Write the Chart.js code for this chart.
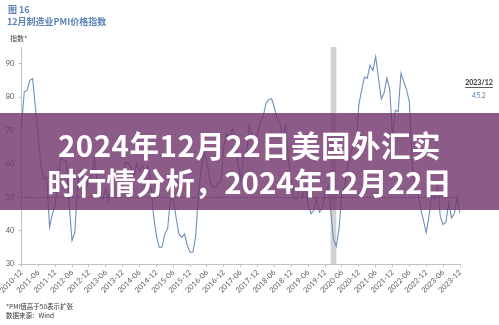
<!DOCTYPE html>
<html>
<head>
<meta charset="utf-8">
<script src="https://cdn.jsdelivr.net/npm/chart.js@4.4.1/dist/chart.umd.min.js"></script>
<style>
  html, body { margin: 0; padding: 0; background: #fff; }
  #wrap { position: relative; width: 499px; height: 325px; overflow: hidden; font-family: "Noto Sans CJK SC", Lato, sans-serif; }
  #chart { position: absolute; left: 0; top: 0; }
  .t { position: absolute; white-space: nowrap; line-height: 1; }
  #fig { left: 8px; top: 5px; font-size: 9px; font-weight: bold; color: #5a82b4; }
  #ttl { left: 7px; top: 17px; font-size: 9px; font-weight: bold; color: #5a82b4; }
  #unit { left: 10px; top: 35px; font-size: 7px; color: #444; }
  #note { left: 6px; top: 303px; font-size: 6.5px; color: #333; }
  #src { left: 6px; top: 312px; font-size: 6.5px; color: #333; }
  #banner { position: absolute; left: 0; top: 113px; width: 499px; height: 97px; background: rgba(115, 55, 110, 0.82); }
  .bl { position: absolute; left: 0; width: 499px; text-align: center; color: #fff; font-weight: bold; font-size: 29.5px; line-height: 37px; }
  #l1 { top: 13px; letter-spacing: 0.5px; }
  #l2 { top: 50px; }
</style>
</head>
<body>
<div id="wrap">
  <canvas id="chart" width="499" height="325"></canvas>
  <div class="t" id="fig">图 16</div>
  <div class="t" id="ttl">12月制造业PMI价格指数</div>
  <div class="t" id="unit">指数*</div>
  <div class="t" id="note">*PMI值高于50表示扩张</div>
  <div class="t" id="src">数据来源：Wind</div>
  <div id="banner">
    <div class="bl" id="l1">2024年12月22日美国外汇实</div>
    <div class="bl" id="l2">时行情分析，2024年12月22日</div>
  </div>
</div>
<script>
// Monthly categories, 2010-12 through 2023-12
const firstYear = 2010, firstMonth = 12, lastYear = 2023, lastMonth = 12;
const months = [];
for (let y = firstYear, m = firstMonth; y < lastYear || (y === lastYear && m <= lastMonth); ) {
  months.push(y + '-' + String(m).padStart(2, '0'));
  m++; if (m > 12) { m = 1; y++; }
}

// Manufacturing PMI prices index, monthly
const pricesIndex = [
  71.0,                                                                   // 2010-12
  81.5, 82.0, 85.0, 85.5, 76.5, 68.0, 59.0, 55.5, 56.0, 41.0, 45.0, 47.5, // 2011
  55.5, 61.5, 61.0, 61.0, 47.5, 37.0, 39.5, 54.0, 58.0, 55.0, 52.5, 55.5, // 2012
  56.5, 61.5, 54.5, 50.0, 49.5, 52.5, 49.0, 54.0, 56.5, 55.5, 52.5, 53.5, // 2013
  60.5, 60.0, 59.0, 56.5, 60.0, 58.0, 59.5, 58.0, 59.5, 53.5, 44.5, 38.5, // 2014
  35.0, 35.0, 39.0, 40.5, 49.5, 49.5, 44.0, 39.0, 38.0, 39.0, 35.5, 33.5, // 2015
  33.5, 38.5, 51.5, 59.0, 63.5, 60.5, 55.0, 53.0, 53.0, 54.5, 54.5, 65.5, // 2016
  69.0, 68.0, 70.5, 68.5, 60.5, 55.0, 62.0, 62.0, 71.5, 68.5, 65.5, 69.0, // 2017
  72.7, 74.2, 78.1, 79.3, 79.5, 76.8, 73.2, 72.1, 66.9, 71.6, 60.7, 54.9, // 2018
  49.6, 49.4, 54.3, 50.0, 53.2, 47.9, 45.1, 46.0, 49.7, 45.5, 46.7, 51.7, // 2019
  53.3, 45.9, 37.4, 35.3, 40.8, 51.3, 53.2, 59.5, 62.8, 65.5, 65.4, 77.6, // 2020
  82.1, 86.0, 85.6, 89.6, 88.0, 92.1, 85.7, 79.4, 81.2, 85.7, 82.4, 68.2, // 2021
  76.1, 75.6, 87.1, 84.6, 82.2, 78.5, 60.0, 52.5, 51.7, 46.6, 43.0, 39.4, // 2022
  44.5, 51.3, 49.2, 53.2, 44.2, 41.8, 42.6, 48.4, 43.8, 45.1, 49.9, 45.2  // 2023
];

// Shaded period and the 50 expansion threshold
const shadedPeriod = ['2020-02', '2020-04'];
const expansionLevel = 50;

// Axis range and labelled steps
const yMin = 30, yMax = 95, yStep = 10;
const xLabelEvery = 6;

const lineColor = '#6f8fb8';
const axisColor = '#c3c3c3';
const tickText = '#595959';

const decorations = {
  id: 'decorations',
  beforeDatasetsDraw(chart) {
    const { ctx, chartArea, scales: { x, y } } = chart;
    // shaded period
    const x1 = x.getPixelForValue(months.indexOf(shadedPeriod[0]));
    const x2 = x.getPixelForValue(months.indexOf(shadedPeriod[1]));
    ctx.save();
    ctx.fillStyle = '#d2d2d2';
    ctx.fillRect(x1, chartArea.top, x2 - x1, chartArea.bottom - chartArea.top);
    // dotted 50 line
    const yy = Math.round(y.getPixelForValue(expansionLevel)) + 0.5;
    ctx.strokeStyle = '#5a4a5a';
    ctx.lineWidth = 1;
    ctx.setLineDash([1.5, 1.5]);
    ctx.beginPath();
    ctx.moveTo(chartArea.left, yy);
    ctx.lineTo(chartArea.right - 2, yy);
    ctx.stroke();
    ctx.restore();
  },
  afterDraw(chart) {
    const { ctx, chartArea, scales: { x } } = chart;
    const last = pricesIndex.length - 1;
    const cx = x.getPixelForValue(last) + 19;
    const ty = chartArea.top + 36;
    ctx.save();
    ctx.textAlign = 'center';
    ctx.textBaseline = 'middle';
    ctx.font = 'bold 7px Lato, sans-serif';
    ctx.fillStyle = '#333';
    const lbl = months[last].replace('-', '/');
    ctx.fillText(lbl, cx, ty);
    const w = ctx.measureText(lbl).width;
    ctx.fillRect(cx - w / 2, ty + 4, w, 0.8);
    ctx.font = '7px Lato, sans-serif';
    ctx.fillStyle = '#5a82b4';
    ctx.fillText(pricesIndex[last].toFixed(1), cx, ty + 13);
    ctx.restore();
  }
};

new Chart(document.getElementById('chart'), {
  type: 'line',
  data: {
    labels: months,
    datasets: [{
      data: pricesIndex,
      borderColor: lineColor,
      borderWidth: 1.1,
      pointRadius: 0,
      tension: 0,
      fill: false
    }]
  },
  options: {
    responsive: false,
    animation: false,
    devicePixelRatio: 1,
    layout: { padding: { left: 0, top: 47, right: 39, bottom: 0 } },
    plugins: { legend: { display: false }, tooltip: { enabled: false } },
    scales: {
      x: {
        type: 'category',
        offset: false,
        afterFit(scale) { scale.height = 61; },
        border: { color: axisColor, width: 1 },
        grid: {
          drawOnChartArea: false,
          drawTicks: true,
          tickLength: 3,
          tickColor: (c) => (c.index % xLabelEvery === 0 ? axisColor : 'rgba(0,0,0,0)')
        },
        ticks: {
          autoSkip: false,
          minRotation: 45,
          maxRotation: 45,
          padding: 1,
          color: tickText,
          font: { family: 'Lato, sans-serif', size: 7.5 },
          callback: (v, i) => (i % xLabelEvery === 0 ? months[i] : '')
        }
      },
      y: {
        min: yMin,
        max: yMax,
        afterFit(scale) { scale.width = 21; },
        border: { color: axisColor, width: 1 },
        grid: { drawOnChartArea: false, drawTicks: true, tickLength: 3, tickColor: axisColor },
        ticks: {
          stepSize: yStep,
          includeBounds: false,
          padding: 4,
          color: tickText,
          font: { family: 'Lato, sans-serif', size: 7.5 }
        }
      }
    }
  },
  plugins: [decorations]
});
</script>
</body>
</html>
